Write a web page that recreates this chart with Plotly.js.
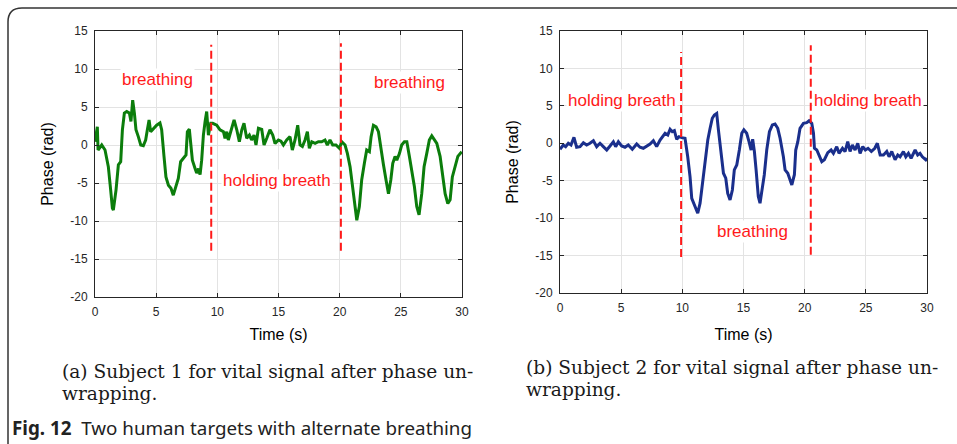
<!DOCTYPE html>
<html>
<head>
<meta charset="utf-8">
<script src="https://cdn.plot.ly/plotly-3.0.1.min.js"></script>
<style>
html,body{margin:0;padding:0;background:#fff;}
#chart{width:957px;height:444px;}
</style>
</head>
<body>
<div id="chart"></div>
<script>
// Subject 1 (left panel)
const time1 = [0,0.19,0.25,0.55,0.82,1.09,1.28,1.42,1.5,1.72,1.91,2.1,2.24,2.4,2.59,2.81,2.94,3.08,3.22,3.35,3.54,3.74,3.95,4.14,4.28,4.42,4.55,4.77,5.04,5.31,5.45,5.64,5.8,6.0,6.21,6.4,6.62,6.81,7.0,7.22,7.44,7.55,7.71,7.85,7.96,8.18,8.31,8.45,8.59,8.72,8.86,9.0,9.13,9.27,9.46,9.62,9.95,10.22,10.5,10.63,10.77,10.9,11.17,11.37,11.59,11.8,12.0,12.18,12.4,12.62,12.8,13.0,13.16,13.36,13.63,13.82,14.04,14.3,14.53,14.72,14.99,15.2,15.4,15.67,15.94,16.13,16.35,16.57,16.76,16.95,17.17,17.36,17.52,17.72,17.99,18.26,18.53,18.8,18.99,19.21,19.43,19.7,19.98,20.17,20.44,20.63,20.85,21.06,21.26,21.4,21.61,21.8,22.02,22.21,22.43,22.57,22.76,22.98,23.17,23.38,23.58,23.79,23.99,24.18,24.34,24.53,24.67,24.89,25.07,25.29,25.49,25.7,25.9,26.11,26.3,26.49,26.71,26.9,27.12,27.33,27.53,27.74,27.94,28.21,28.43,28.62,28.84,29.03,29.21,29.44,29.66,29.98];
const phase1 = [0.43,2.4,-0.66,0,-0.66,-2.85,-5.9,-8.3,-8.55,-5.9,-2.6,-2.2,2.0,4.2,4.4,4.2,3.1,5.9,4.2,2.0,1.1,0,-0.1,0.66,2.0,3.3,1.75,2.2,2.6,2.9,2.0,-1.5,-4.2,-5.3,-5.7,-6.6,-5.5,-4.4,-2.2,-1.75,-1.3,1.75,2.1,-0.2,-2.0,-3.1,-3.7,-3.1,-3.9,-2.0,1.3,3.1,4.4,1.3,2.85,2.85,2.6,2.0,1.75,0.88,1.75,0.66,2.0,3.3,2.0,0.43,2.0,2.85,0.88,1.3,0.66,1.3,0,2.2,2.05,0,0.88,2.0,1.3,0.2,0.66,0.5,0,0.66,1.1,-0.66,0.66,2.6,0,-0.2,0.66,1.75,-0.44,0.43,0.22,0.43,0.43,0.66,0,0.66,0,0,-0.44,0.43,0,-1.1,-2.85,-5.5,-8.55,-9.9,-8.1,-4.6,-2.4,-0.66,-0.88,1.1,2.6,2.4,1.75,-0.2,-2.6,-4.6,-6.4,-4.6,-2.4,-1.5,-2.0,-1.1,0,0.43,0.43,-1.5,-3.3,-5.5,-8.1,-9.2,-6.4,-2.85,-1.1,0.66,1.2,0.66,0.22,-1.5,-4.2,-6.4,-7.7,-7.2,-4.2,-2.85,-1.5,-0.88];

// Subject 2 (right panel)
const time2 = [0,0.27,0.46,0.68,0.9,1.14,1.36,1.64,1.91,2.18,2.45,2.73,3.0,3.27,3.54,3.82,4.09,4.36,4.55,4.77,5.04,5.31,5.58,5.91,6.27,6.54,6.81,7.09,7.36,7.63,7.9,8.18,8.4,8.59,8.81,9.0,9.18,9.35,9.54,9.73,9.95,10.22,10.44,10.63,10.77,10.98,11.26,11.45,11.64,11.86,12.08,12.27,12.45,12.62,12.81,12.95,13.14,13.36,13.55,13.71,13.9,14.09,14.25,14.45,14.66,14.86,15.03,15.26,15.45,15.62,15.75,15.89,16.03,16.21,16.35,16.49,16.7,16.9,17.12,17.36,17.58,17.8,17.99,18.26,18.4,18.62,18.81,18.95,19.16,19.27,19.44,19.62,19.9,20.17,20.36,20.58,20.72,20.8,20.99,21.18,21.4,21.61,21.89,22.16,22.35,22.62,22.81,23.09,23.3,23.52,23.71,23.9,24.12,24.34,24.53,24.75,24.96,25.18,25.45,25.73,25.94,26.17,26.44,26.71,26.9,27.12,27.39,27.61,27.8,28.07,28.27,28.48,28.7,29.03,29.24,29.43,29.62,29.9,30];
const phase2 = [-0.8,-0.23,-0.45,0,-0.23,0.8,-0.53,-0.45,0.08,-0.23,0,0.35,-0.45,0,-0.45,-0.9,-0.36,0.2,-0.45,0.2,-0.36,-0.53,-0.23,-0.8,-0.09,-0.53,-0.67,-0.36,-0.09,0.35,-0.45,0.44,0.88,1.33,1.1,1.87,1.55,1.68,0.53,0.88,0.75,0.67,-1.8,-4.46,-7.35,-8.24,-9.35,-8.0,-5.34,-2.45,0.44,2.0,3.34,3.78,4.0,1.78,-1.34,-4.0,-4.67,-6.7,-7.57,-6.24,-3.56,-2.9,-0.9,1.34,1.8,1.34,0.22,-0.9,0.53,-1.1,-3.56,-7.1,-8.0,-6.24,-4.2,-0.9,1.55,2.45,2.58,2.0,0.67,-1.8,-3.56,-4.0,-5.1,-5.57,-4.2,-0.9,0.22,2.0,2.67,2.75,3.0,2.67,1.34,-0.67,-0.9,-1.56,-2.45,-2.2,-1.25,-0.9,-1.34,-0.45,-1.34,-0.67,-1.1,0.22,-1.1,-0.23,-0.9,0,-1.34,-0.45,-0.9,-0.67,-1.1,-0.67,0,-1.56,-1.56,-1.1,-1.8,-1.1,-2.2,-1.56,-1.8,-1.1,-1.8,-1.34,-2.0,-0.9,-1.56,-1.34,-1.8,-2.2,-2.0];

// Event markers (dashed red lines): time and vertical extent
const markers1 = [9.5, 20.1];
const markerTop1 = [13.2, 13.4];
const markerBottom1 = [-13.9, -13.9];
const markers2 = [9.9, 20.5];
const markerTop2 = [12.2, 13.1];
const markerBottom2 = [-15.2, -14.9];

// Region labels
const labels1 = ["breathing", "holding breath", "breathing"];
const labelX1 = [5.1, 14.9, 25.7];
const labelY1 = [8.6, -4.7, 8.2];
const labels2 = ["holding breath", "breathing", "holding breath"];
const labelX2 = [5.1, 15.7, 25.2];
const labelY2 = [5.7, -11.8, 5.7];

const xTicks = [0, 5, 10, 15, 20, 25, 30];
const yTicks = [-20, -15, -10, -5, 0, 5, 10, 15];

const W = 957, H = 444;
const px = v => v / W;
const py = v => 1 - v / H;

const traces = [
  {x: time1, y: phase1, type: 'scatter', mode: 'lines', xaxis: 'x', yaxis: 'y',
   line: {color: '#0b7d0b', width: 3}, hoverinfo: 'skip'},
  {x: time2, y: phase2, type: 'scatter', mode: 'lines', xaxis: 'x2', yaxis: 'y2',
   line: {color: '#1a2f8c', width: 3}, hoverinfo: 'skip'}
];
markers1.forEach((m, i) => traces.push({x: [m, m], y: [markerBottom1[i], markerTop1[i]], type: 'scatter', mode: 'lines',
  xaxis: 'x', yaxis: 'y', line: {color: '#ff1a1a', width: 2, dash: '8px,4px'}, hoverinfo: 'skip'}));
markers2.forEach((m, i) => traces.push({x: [m, m], y: [markerBottom2[i], markerTop2[i]], type: 'scatter', mode: 'lines',
  xaxis: 'x2', yaxis: 'y2', line: {color: '#ff1a1a', width: 2, dash: '8px,4px'}, hoverinfo: 'skip'}));

const tickFont = {family: 'Liberation Sans, Arial, sans-serif', size: 12, color: '#262626'};
const titleFont = {family: 'Liberation Sans, Arial, sans-serif', size: 16, color: '#000'};

function xax(domain, standoff) {
  return {domain: domain, range: [0, 30], tickvals: xTicks, ticktext: xTicks.map(String),
    showgrid: true, gridcolor: '#e3e3e3', gridwidth: 1, zeroline: false,
    showline: true, linecolor: '#262626', linewidth: 1, mirror: 'ticks',
    ticks: 'inside', ticklen: 4, tickcolor: '#262626', tickfont: tickFont,
    ticklabelstandoff: 4,
    title: {text: 'Time (s)', font: titleFont, standoff: standoff}, fixedrange: true};
}
function yax(domain, anchor) {
  return {domain: domain, range: [-20, 15], tickvals: yTicks, ticktext: yTicks.map(String),
    showgrid: true, gridcolor: '#e3e3e3', gridwidth: 1, zeroline: false,
    showline: true, linecolor: '#262626', linewidth: 1, mirror: 'ticks',
    ticks: 'inside', ticklen: 4, tickcolor: '#262626', tickfont: tickFont,
    ticklabelstandoff: 4, anchor: anchor,
    title: {text: 'Phase (rad)', font: titleFont, standoff: 12}, fixedrange: true};
}

const annotations = [];
const labFont = {family: 'Liberation Sans, Arial, sans-serif', size: 17, color: '#ff1a1a'};
labels1.forEach((t, i) => annotations.push({text: t, x: labelX1[i], y: labelY1[i], xref: 'x', yref: 'y',
  showarrow: false, font: labFont, bgcolor: '#ffffff', borderpad: 1}));
labels2.forEach((t, i) => annotations.push({text: t, x: labelX2[i], y: labelY2[i], xref: 'x2', yref: 'y2',
  showarrow: false, font: labFont, bgcolor: '#ffffff', borderpad: 1}));

const serif = {family: 'DejaVu Serif, Liberation Serif, serif', size: 18.6, color: '#1a1a1a'};
const capLines = [
  ['(a) Subject 1 for vital signal after phase un-', 60, 371],
  ['wrapping.', 60, 393],
  ['(b) Subject 2 for vital signal after phase un-', 524, 367],
  ['wrapping.', 524, 389]
];
capLines.forEach(c => annotations.push({text: c[0], x: px(c[1]), y: py(c[2]), xref: 'paper', yref: 'paper',
  xanchor: 'left', yanchor: 'middle', showarrow: false, font: serif}));
annotations.push({text: '<b>Fig. 12</b>  Two human targets with alternate breathing', x: px(10), y: py(428),
  xref: 'paper', yref: 'paper', xanchor: 'left', yanchor: 'middle', showarrow: false,
  font: {family: 'Noto Sans, Open Sans, sans-serif', size: 18.8, color: '#222'}});

const layout = {
  width: W, height: H, margin: {l: 0, r: 0, t: 0, b: 0},
  paper_bgcolor: '#ffffff', plot_bgcolor: '#ffffff', showlegend: false,
  xaxis: xax([px(95), px(462)], 10),
  yaxis: yax([py(297), py(31)], 'x'),
  xaxis2: Object.assign(xax([px(560), px(927)], 14), {anchor: 'y2'}),
  yaxis2: yax([py(293), py(31)], 'x2'),
  annotations: annotations,
  shapes: [{type: 'path', xref: 'paper', yref: 'paper',
    path: `M ${px(8)},${py(444)} L ${px(8)},${py(22)} Q ${px(8)},${py(8)} ${px(22)},${py(8)} L ${px(957)},${py(8)}`,
    line: {color: '#333', width: 1.5}}]
};

Plotly.newPlot('chart', traces, layout, {displayModeBar: false, staticPlot: true});
</script>
</body>
</html>
